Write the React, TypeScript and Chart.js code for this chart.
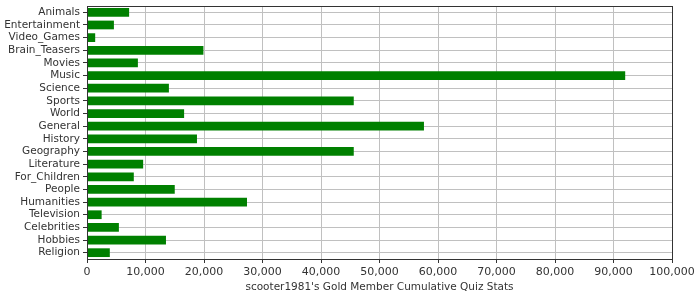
import React, { useEffect, useRef } from "react";
import { Chart, registerables } from "chart.js";

Chart.register(...registerables);

const categories = [
  "Animals", "Entertainment", "Video_Games", "Brain_Teasers", "Movies", "Music",
  "Science", "Sports", "World", "General", "History", "Geography", "Literature",
  "For_Children", "People", "Humanities", "Television", "Celebrities", "Hobbies", "Religion",
];

const quizStats = [
  7200, 4600, 1400, 19900, 8700, 92000,
  14000, 45600, 16600, 57600, 18800, 45600, 9600,
  8000, 15000, 27350, 2500, 5450, 13500, 3900,
];

const axisTitle = "scooter1981's Gold Member Cumulative Quiz Stats";
const xMin = 0;
const xMax = 100000;
const xStep = 10000;

const FONT = "'DejaVu Sans', sans-serif";
const TEXT = "#333333";
const DARK = "#333333";
const GRID = "#c0c0c0";

const frame = {
  id: "frame",
  afterDraw(chart: any) {
    const { ctx, chartArea } = chart;
    ctx.save();
    ctx.strokeStyle = DARK;
    ctx.lineWidth = 1;
    ctx.strokeRect(
      Math.round(chartArea.left) + 0.5,
      Math.round(chartArea.top) + 0.5,
      Math.round(chartArea.right - chartArea.left),
      Math.round(chartArea.bottom - chartArea.top)
    );
    ctx.restore();
  },
};

export default function App() {
  const ref = useRef<HTMLCanvasElement | null>(null);
  useEffect(() => {
    if (!ref.current) return;
    const chart = new Chart(ref.current, {
      type: "bar",
      data: {
        labels: categories,
        datasets: [
          {
            data: quizStats,
            backgroundColor: "#008000",
            borderWidth: 0,
            barPercentage: 0.69,
            categoryPercentage: 1,
          },
        ],
      },
      options: {
        indexAxis: "y",
        animation: false,
        responsive: true,
        maintainAspectRatio: false,
        layout: { padding: { top: 6, right: 28, left: 0, bottom: 0 } },
        plugins: { legend: { display: false }, tooltip: { enabled: false } },
        scales: {
          x: {
            min: xMin,
            max: xMax,
            ticks: {
              stepSize: xStep,
              color: TEXT,
              font: { family: FONT, size: 11 },
              padding: 3,
              maxRotation: 0,
              callback: (v: any) => Number(v).toLocaleString("en-US"),
            },
            grid: { color: GRID, tickColor: DARK, tickLength: 4 },
            border: { color: DARK },
            title: {
              display: true,
              text: axisTitle,
              color: TEXT,
              font: { family: FONT, size: 10.5 },
              padding: { top: 0, bottom: 6 },
            },
            afterFit: (s: any) => {
              s.height = 41;
              s.paddingLeft = 0;
              s.paddingRight = 0;
            },
          },
          y: {
            type: "category",
            ticks: {
              color: TEXT,
              font: { family: FONT, size: 10.5 },
              padding: 3,
              autoSkip: false,
            },
            grid: { color: GRID, tickColor: DARK, tickLength: 4, offset: false },
            border: { color: DARK },
            afterFit: (s: any) => {
              s.width = 87;
              s.paddingTop = 0;
              s.paddingBottom = 0;
            },
          },
        },
      },
      plugins: [frame],
    });
    return () => chart.destroy();
  }, []);
  return (
    <div style={{ position: "absolute", left: 0, top: 0, width: 700, height: 300, background: "#fff" }}>
      <canvas ref={ref} />
    </div>
  );
}
